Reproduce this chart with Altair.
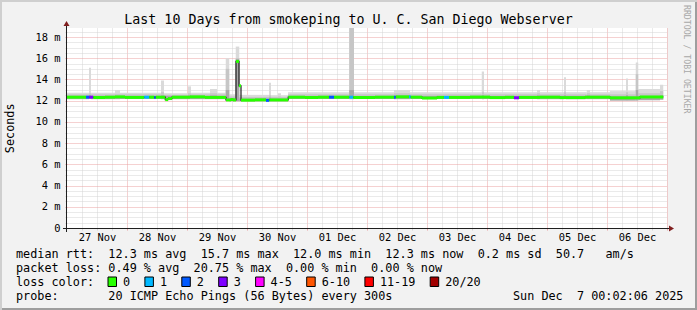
import altair as alt
import pandas as pd

MONO = "DejaVu Sans Mono"

TITLE = "Last 10 Days from smokeping to U. C. San Diego Webserver"
day_labels = ["27 Nov", "28 Nov", "29 Nov", "30 Nov", "01 Dec",
              "02 Dec", "03 Dec", "04 Dec", "05 Dec", "06 Dec"]

# ---- median rtt (ms), step segments: start hour since 27 Nov 00:02 ----
med_start = [0, 7.6, 8.9, 10.5, 15.2, 19.2, 23.2, 30.9, 32.9, 34.9, 35.5, 39.3,
             40.4, 42.0, 49.2, 55.2, 63.6, 65.6, 66.4, 67.6, 68.8, 69.6, 75.2,
             79.6, 80.9, 88.5, 95.2, 100.4, 104.8, 106.8, 112.9, 114.5, 123.2,
             130.8, 131.5, 136.8, 137.5, 142.0, 148.0, 150.8, 152.8, 161.2,
             169.2, 175.2, 178.8, 180.8, 189.2, 197.2, 207.2, 217.2, 229.2]
med_value = [12.33, 12.33, 12.33, 12.30, 12.33, 12.36, 12.31, 12.33, 12.33, 12.30,
             12.33, 12.10, 12.20, 12.33, 12.36, 12.31, 12.07, 12.12, 12.07, 15.70,
             13.40, 12.05, 12.08, 12.03, 12.07, 12.33, 12.30, 12.33, 12.33, 12.33,
             12.33, 12.30, 12.33, 12.33, 12.36, 12.36, 12.33, 12.25, 12.31, 12.31,
             12.31, 12.34, 12.29, 12.32, 12.27, 12.31, 12.33, 12.29, 12.33, 12.27,
             12.35]
med_loss = ["0", "2", "3", "0", "0", "0", "0", "1", "0", "2", "0", "0",
            "0", "0", "0", "0", "0", "0", "0", "0", "0", "0", "0",
            "2", "0", "0", "0", "0", "2", "0", "1", "0", "0",
            "2", "0", "1", "0", "0", "0", "1", "0", "0",
            "0", "0", "3", "0", "0", "0", "0", "0", "0"]
med_end = 238.5

# ---- smoke (ping spread), segments ----
smoke_start = [0, 8.8, 9.6, 19.2, 21.2, 37.6, 38.8, 48.4, 49.6, 57.2, 60.0, 63.5,
               64.9, 67.5, 68.9, 80.8, 81.6, 84.4, 85.6, 88.4, 112.9, 114.8, 130.8,
               137.2, 165.9, 166.8, 188.0, 189.2, 198.8, 199.6, 207.9, 209.2, 217.2,
               223.6, 224.4, 227.5, 228.5, 237.2]
smoke_low = [12.15, 12.15, 12.15, 12.15, 12.15, 12.15, 12.15, 12.15, 12.15, 12.15, 12.15, 12.0,
             11.95, 11.95, 11.95, 11.95, 11.95, 11.95, 11.95, 12.15, 12.15, 12.15, 12.15,
             12.15, 12.15, 12.15, 12.15, 12.15, 12.15, 12.15, 12.15, 12.15, 12.02,
             12.02, 12.02, 12.02, 12.05, 12.1]
smoke_top_outer = [12.75, 15.1, 12.75, 13.0, 12.75, 13.9, 12.7, 13.35, 12.75, 13.1, 12.75, 16.0,
                   12.6, 17.1, 12.55, 13.7, 12.5, 12.7, 12.5, 12.8, 18.85, 12.8, 13.0,
                   12.8, 14.75, 12.8, 13.0, 12.8, 14.2, 12.8, 13.0, 12.8, 12.9,
                   14.1, 12.9, 15.6, 13.1, 13.5]
smoke_top_mid = [12.6, 12.7, 12.6, 12.65, 12.6, 12.8, 12.55, 12.7, 12.6, 12.7, 12.6, 15.0,
                 12.4, 16.0, 12.35, 12.5, 12.35, 12.4, 12.35, 12.6, 18.85, 12.6, 12.7,
                 12.6, 12.8, 12.6, 12.7, 12.6, 12.8, 12.6, 12.7, 12.6, 12.6,
                 12.8, 12.6, 14.5, 12.7, 12.9]
smoke_top_inner = [12.45, 12.5, 12.45, 12.45, 12.45, 12.5, 12.45, 12.5, 12.45, 12.5, 12.45, 13.0,
                   12.25, 15.9, 12.2, 12.3, 12.2, 12.2, 12.2, 12.45, 13.0, 12.45, 12.5,
                   12.45, 12.5, 12.45, 12.5, 12.45, 12.5, 12.45, 12.5, 12.45, 12.4,
                   12.5, 12.4, 13.0, 12.45, 12.5]
smoke_end = 238.5

# ---- legend texts ----
loss_labels = ["0", "1", "2", "3", "4-5", "6-10", "11-19", "20/20"]
loss_colors = ["#26ff00", "#00b8ff", "#0059ff", "#7e00ff",
               "#ff00ff", "#ff5500", "#ff0000", "#a10000"]
legend_rows = [
    "median rtt:  12.3 ms avg  15.7 ms max  12.0 ms min  12.3 ms now  0.2 ms sd  50.7   am/s",
    "packet loss: 0.49 % avg  20.75 % max  0.00 % min  0.00 % now",
    "loss color:",
    "probe:       20 ICMP Echo Pings (56 Bytes) every 300s",
]
probe_time = "Sun Dec  7 00:02:06 2025"
y_title = "Seconds"
watermark = "RRDTOOL / TOBI OETIKER"

# ---------------- build frames ----------------
med_df = pd.DataFrame({
    "s": med_start,
    "e": med_start[1:] + [med_end],
    "v": med_value,
    "loss": med_loss,
})
line_df = pd.DataFrame({"h": med_start + [med_end], "v": med_value + [med_value[-1]]})
smoke_df = pd.DataFrame({
    "s": smoke_start,
    "e": smoke_start[1:] + [smoke_end],
    "lo": smoke_low,
    "t1": smoke_top_outer,
    "t2": smoke_top_mid,
    "t3": smoke_top_inner,
})

xs = alt.Scale(domain=[0, 240], nice=False, zero=False)
ys = alt.Scale(domain=[0, 18.85], nice=False, zero=False)

MINOR = "#d4d4d4"
MAJOR = "#eba3a3"

# minor grid axes (every 6 h / 0.5 ms)
x_minor = alt.Axis(
    orient="bottom", values=[h for h in range(6, 240, 6) if h % 24 != 0],
    title=None, domain=False, labels=False,
    ticks=True, tickSize=2, tickWidth=1, tickColor=MINOR,
    grid=True, gridDash=[1, 1], gridWidth=1, gridColor=MINOR,
)
y_minor = alt.Axis(
    orient="left", values=[i * 0.5 for i in range(1, 38) if i % 4 != 0],
    title=None, domain=False, labels=False,
    ticks=True, tickSize=2, tickWidth=1, tickColor=MINOR,
    grid=True, gridDash=[1, 1], gridWidth=1, gridColor=MINOR,
)
# major grid axes (every day / 2 ms) with y labels
x_major = alt.Axis(
    orient="bottom", values=list(range(24, 241, 24)),
    title=None, domain=False, labels=False,
    ticks=True, tickSize=2, tickWidth=1, tickColor=MAJOR,
    grid=True, gridDash=[1, 1], gridWidth=1, gridColor=MAJOR,
)
y_major = alt.Axis(
    orient="left", values=list(range(0, 19, 2)),
    title=None, domain=False,
    ticks=True, tickSize=2, tickWidth=1, tickColor=MAJOR,
    grid=True, gridDash=[1, 1], gridWidth=1, gridColor=MAJOR,
    labelExpr="datum.value == 0 ? '0' : datum.value + ' m'",
    labelFont=MONO, labelFontSize=10.4, labelColor="#000000",
    labelPadding=5, labelBaseline="middle", labelOverlap=False, labelFlush=False,
)
# day labels, centred at noon
label_js = "[" + ",".join("'" + d + "'" for d in day_labels) + "]"
x_labels = alt.Axis(
    orient="bottom", values=list(range(12, 240, 24)),
    title=None, domain=False, ticks=False, grid=False,
    labelExpr=label_js + "[floor(datum.value / 24)]",
    labelFont=MONO, labelFontSize=10.4, labelColor="#000000",
    labelPadding=12.7, labelBaseline="alphabetic", labelAngle=0,
    labelOverlap=False, labelFlush=False,
)

smoke_outer = alt.Chart(smoke_df).mark_rect(color="#dadada", clip=True).encode(
    x=alt.X("s:Q", scale=xs, axis=x_minor),
    x2="e:Q",
    y=alt.Y("lo:Q", scale=ys, axis=y_minor),
    y2="t1:Q",
)
smoke_mid = alt.Chart(smoke_df).mark_rect(color="#c6c6c6", clip=True).encode(
    x=alt.X("s:Q", scale=xs, axis=x_major), x2="e:Q",
    y=alt.Y("lo:Q", scale=ys, axis=y_major), y2="t2:Q",
)
smoke_inner = alt.Chart(smoke_df).mark_rect(color="#a8a8a8", clip=True).encode(
    x=alt.X("s:Q", scale=xs, axis=x_labels), x2="e:Q",
    y=alt.Y("lo:Q", scale=ys, axis=None), y2="t3:Q",
)
med_line = alt.Chart(line_df).mark_line(
    interpolate="step-after", color="#202020", strokeWidth=1.2
).encode(
    x=alt.X("h:Q", scale=xs, axis=None),
    y=alt.Y("v:Q", scale=ys, axis=None),
)
med_band = alt.Chart(med_df).transform_calculate(
    lo="datum.v - 0.14", hi="datum.v + 0.14"
).mark_rect().encode(
    x=alt.X("s:Q", scale=xs, axis=None), x2="e:Q",
    y=alt.Y("lo:Q", scale=ys, axis=None), y2="hi:Q",
    color=alt.Color("loss:N", scale=alt.Scale(domain=loss_labels, range=loss_colors), legend=None),
)

one = pd.DataFrame({"a": [0]})
AXC = "#1f1f1f"
ARROW = "#801f1f"


def rule(color, width, **enc):
    return alt.Chart(one).mark_rule(color=color, strokeWidth=width).encode(
        **{k: alt.value(v) for k, v in enc.items()})


def label(text, px, py, size, align="left", angle=0, color="#000000"):
    return alt.Chart(one).mark_text(
        text=text, font=MONO, fontSize=size, color=color, align=align,
        baseline="alphabetic", angle=angle
    ).encode(x=alt.value(px), y=alt.value(py))


x_axis_line = rule(AXC, 1, x=-4, x2=604, y=200.5)
y_axis_line = rule(AXC, 1, x=-0.5, y=204, y2=-4)
x_arrow = alt.Chart(one).mark_point(
    shape="M-1,-1.2L-1,1.2L1,0Z", filled=True, color=ARROW, opacity=1, size=25
).encode(x=alt.value(604.5), y=alt.value(200.5))
y_arrow = alt.Chart(one).mark_point(
    shape="M-1.2,1L1.2,1L0,-1Z", filled=True, color=ARROW, opacity=1, size=25
).encode(x=alt.value(-0.5), y=alt.value(-4.5))

borders = [
    rule("#cfcfcf", 2, x=-67, x2=630, y=-27),
    rule("#cfcfcf", 2, x=-66, y=-28, y2=282),
    rule("#9e9e9e", 2, x=-65, x2=630, y=281),
    rule("#9e9e9e", 2, x=629, y=-26, y2=282),
]

NB = "\u00a0"
row_y = [230.2, 244.1, 258.0, 271.9]
texts = [label(TITLE, 281.5, -4, 13.3, align="center")]
for r, yy in zip(legend_rows, row_y):
    texts.append(label(r.replace(" ", NB), -51, yy, 11.8))
texts.append(label(probe_time.replace(" ", NB), 446, row_y[3], 11.8))
texts.append(label(y_title, -53, 100.3, 11.8, align="center", angle=270))
texts.append(label(watermark, 616.7, -23, 8.2, angle=90, color="#a8a8a8"))

CW = 7.1
boxes = []
p = 108.0
for lab, col in zip(loss_labels, loss_colors):
    boxes.append(
        alt.Chart(one).mark_rect(color=col, stroke="#000000", strokeWidth=1).encode(
            x=alt.value(p - 67), x2=alt.value(p - 67 + 8.5),
            y=alt.value(249), y2=alt.value(258.5))
    )
    texts.append(label(lab, p - 67 + 15, row_y[2], 11.8))
    p += 15 + len(lab) * CW + 14.8

chart = alt.layer(
    smoke_outer, smoke_mid, smoke_inner, med_line, med_band,
    x_axis_line, y_axis_line, x_arrow, y_arrow,
    *boxes, *texts, *borders,
).resolve_axis(
    x="independent", y="independent"
).properties(
    width=600, height=200,
    padding={"left": 67, "top": 28, "right": 30, "bottom": 82},
    autosize="none",
).configure(
    background="#f2f2f2",
).configure_view(
    fill="#ffffff", stroke=None,
)

chart.save("out.html", embed_options={"renderer": "svg", "actions": False})
